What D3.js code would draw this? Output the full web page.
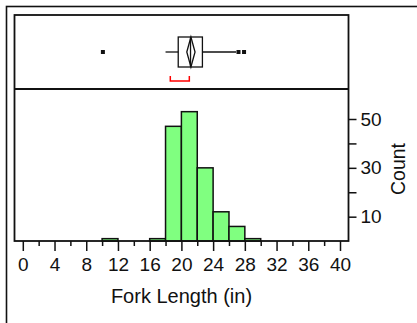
<!DOCTYPE html>
<html><head><meta charset="utf-8">
<script src="https://cdn.jsdelivr.net/npm/d3@7"></script>
<style>body{margin:0;background:#fff;} svg{display:block;font-family:"Liberation Sans",Arial,sans-serif;}</style>
</head><body>
<script>
// Histogram data (2-inch bins)
const binStarts = [10, 16, 18, 20, 22, 24, 26, 28];
const binCounts = [1, 1, 47, 53, 30, 12, 6, 1];
const binWidth = 2;
// Outlier box plot summary
const whiskerLow = 18.0, q1 = 19.6, median = 21.15, q3 = 22.65, whiskerHigh = 26.9;
const outliers = [10.1, 27.2, 27.9];
const mean = 21.2, meanHalfWidth = 0.52;
const shortestHalf = [18.6, 21.0];
// Axis ticks
const xMajorTicks = [0, 4, 8, 12, 16, 20, 24, 28, 32, 36, 40];
const xMinorTicks = [2, 6, 10, 14, 18, 22, 26, 30, 34, 38];
const yTicks = [10, 20, 30, 40, 50];
const yLabelTicks = [10, 30, 50];

(function () {
const W = 417, H = 323;
const svg = d3.select("body").append("svg").attr("width", W).attr("height", H);

const pLeft = 14.5, pRight = 348.5, pTop = 15, pSep = 89, pBottom = 241;
const x = d3.scaleLinear().domain([0, 40]).range([22.8, 340]);
const y = d3.scaleLinear().domain([0, 50]).range([241.1, 119]);

// outer frame
svg.append("rect").attr("x", 6.5).attr("y", 6.5).attr("width", 500).attr("height", 400)
  .attr("fill", "none").attr("stroke", "#111").attr("stroke-width", 1.6);

// bars
svg.append("g").selectAll("rect").data(binStarts).join("rect")
  .attr("x", d => x(d)).attr("width", d => x(d + binWidth) - x(d))
  .attr("y", (d, i) => y(binCounts[i])).attr("height", (d, i) => y(0) - y(binCounts[i]))
  .attr("fill", "#80ff80").attr("stroke", "#111").attr("stroke-width", 1.5);

// plot frames
svg.append("rect").attr("x", pLeft).attr("y", pTop).attr("width", pRight - pLeft).attr("height", pBottom - pTop)
  .attr("fill", "none").attr("stroke", "#111").attr("stroke-width", 1.8);
svg.append("line").attr("x1", pLeft).attr("x2", pRight).attr("y1", pSep).attr("y2", pSep)
  .attr("stroke", "#111").attr("stroke-width", 1.8);

// x axis
const xMajor = d3.axisBottom(x).tickValues(xMajorTicks).tickSize(10).tickPadding(7).tickFormat(d3.format("d"));
const gx = svg.append("g").attr("transform", `translate(0,${pBottom})`).call(xMajor);
gx.select(".domain").remove();
gx.selectAll("line").attr("stroke", "#111").attr("stroke-width", 1.5);
gx.selectAll("text").attr("font-size", 19).attr("fill", "#111").attr("font-family", "Liberation Sans, Arial, sans-serif");
const xMinor = d3.axisBottom(x).tickValues(xMinorTicks).tickSize(5).tickFormat("");
const gxm = svg.append("g").attr("transform", `translate(0,${pBottom})`).call(xMinor);
gxm.select(".domain").remove();
gxm.selectAll("line").attr("stroke", "#111").attr("stroke-width", 1.5);

// y axis (right)
const yAx = d3.axisRight(y).tickValues(yTicks).tickSize(8).tickPadding(4)
  .tickFormat(d => yLabelTicks.includes(d) ? d : "");
const gy = svg.append("g").attr("transform", `translate(${pRight},0)`).call(yAx);
gy.select(".domain").remove();
gy.selectAll("line").attr("stroke", "#111").attr("stroke-width", 1.5);
gy.selectAll("text").attr("font-size", 19).attr("fill", "#111").attr("font-family", "Liberation Sans, Arial, sans-serif");

// labels
svg.append("text").attr("x", 181.5).attr("y", 302.5).attr("text-anchor", "middle")
  .attr("font-size", 20).attr("fill", "#111").text("Fork Length (in)");
svg.append("text").attr("transform", "translate(405,169) rotate(-90)").attr("text-anchor", "middle")
  .attr("font-size", 19.5).attr("fill", "#111").text("Count");

// box plot
const cy = 52, bh = 15;
const bp = svg.append("g").attr("stroke", "#111").attr("fill", "none").attr("stroke-width", 1.3);
bp.append("line").attr("x1", x(whiskerLow)).attr("x2", x(q1)).attr("y1", cy).attr("y2", cy);
bp.append("line").attr("x1", x(q3)).attr("x2", x(whiskerHigh)).attr("y1", cy).attr("y2", cy);
bp.append("rect").attr("x", x(q1)).attr("y", cy - bh).attr("width", x(q3) - x(q1)).attr("height", 2 * bh);
bp.append("line").attr("x1", x(median)).attr("x2", x(median)).attr("y1", cy - bh).attr("y2", cy + bh);
bp.append("path").attr("d", `M${x(mean - meanHalfWidth)},${cy} L${x(mean)},${cy - bh} L${x(mean + meanHalfWidth)},${cy} L${x(mean)},${cy + bh} Z`);
svg.append("g").selectAll("rect").data(outliers).join("rect")
  .attr("x", d => x(d) - 2).attr("y", cy - 2).attr("width", 4).attr("height", 4).attr("fill", "#111");
// shortest half bracket
svg.append("path")
  .attr("d", `M${x(shortestHalf[0])},76 L${x(shortestHalf[0])},81 L${x(shortestHalf[1])},81 L${x(shortestHalf[1])},76`)
  .attr("fill", "none").attr("stroke", "#ff0000").attr("stroke-width", 1.5);
})();
</script>
</body></html>
